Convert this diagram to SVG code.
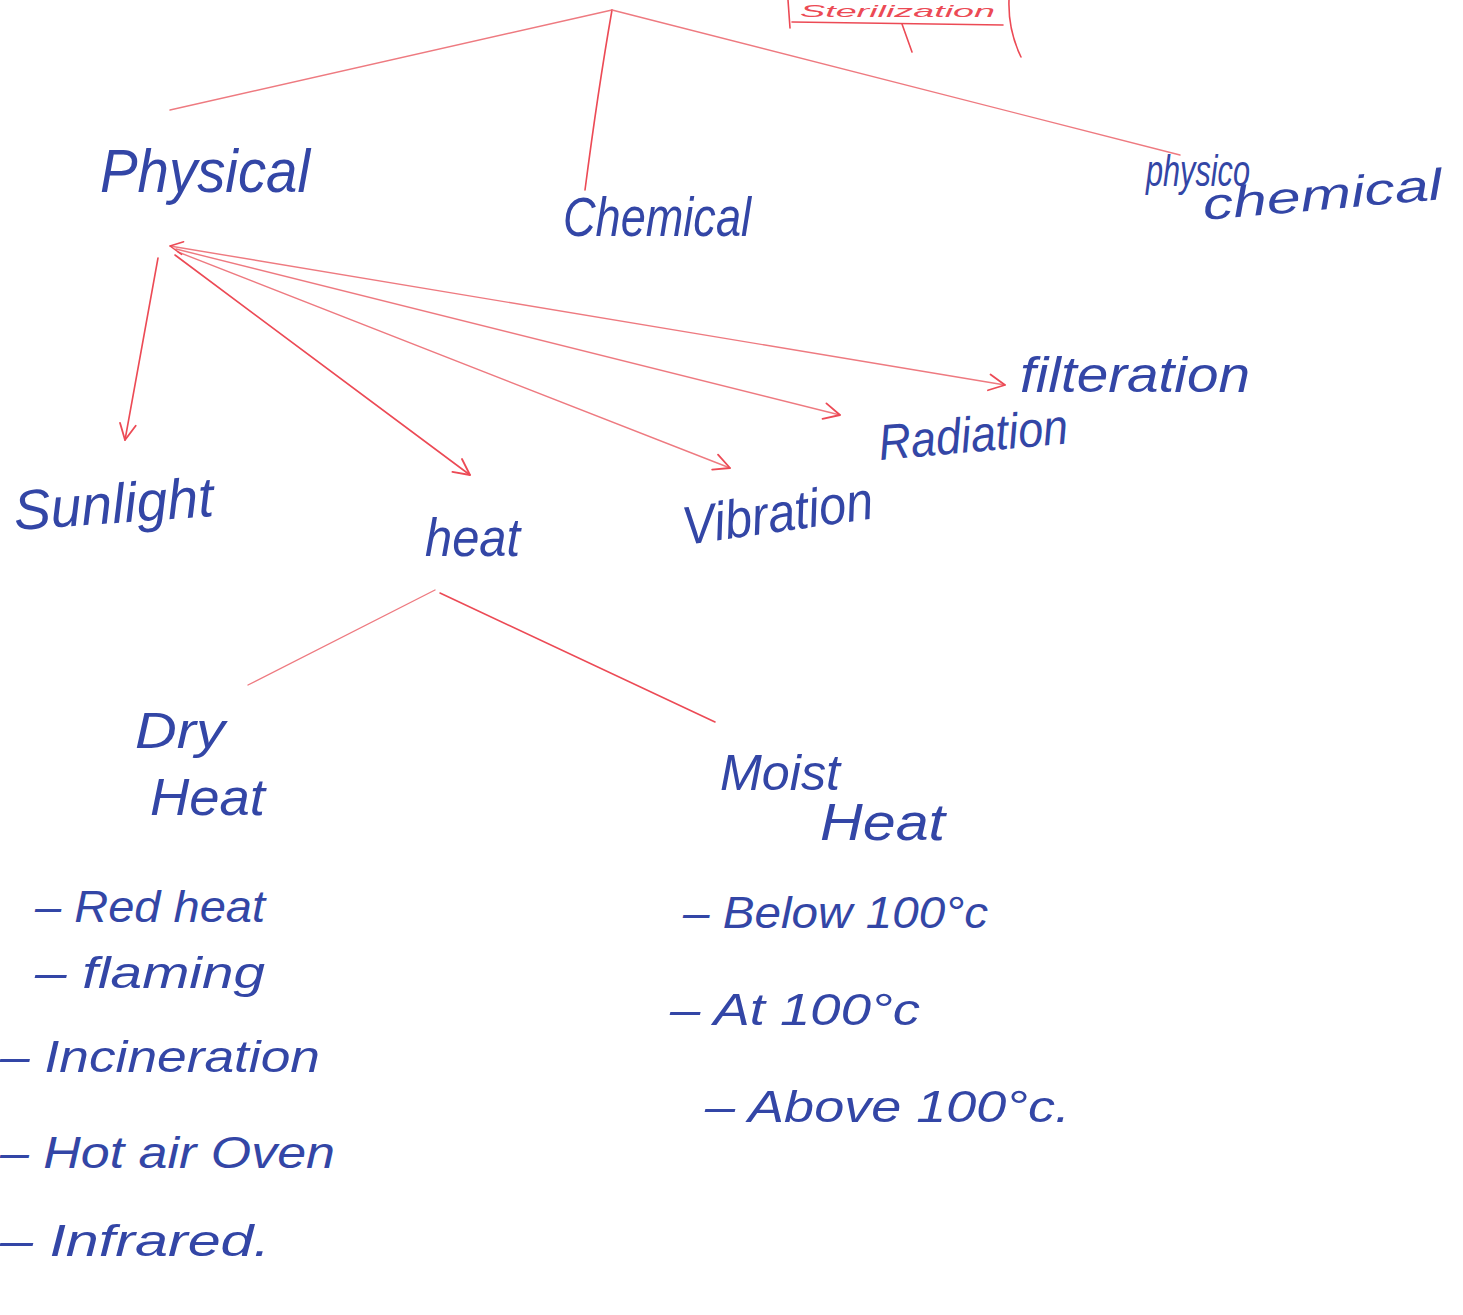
<svg xmlns="http://www.w3.org/2000/svg" width="1463" height="1315" viewBox="0 0 1463 1315">
<style>
.t{font-family:"Liberation Sans","DejaVu Sans",sans-serif;fill:#3346a6;font-style:italic}
.ln{fill:none;stroke:#ec4a55;stroke-width:1.6;stroke-linecap:round}
.lt{fill:none;stroke:#ee7a80;stroke-width:1.4;stroke-linecap:round}
.ah{fill:none;stroke:#ec4a55;stroke-width:1.8;stroke-linecap:round;stroke-linejoin:round}
</style>
<defs>
<marker id="arr" viewBox="0 0 20 20" refX="18" refY="10" markerWidth="20" markerHeight="20" markerUnits="userSpaceOnUse" orient="auto">
<path d="M2,2 L18,10 L2,18" class="ah"/>
</marker>
<marker id="arrs" viewBox="0 0 20 20" refX="2" refY="10" markerWidth="16" markerHeight="16" markerUnits="userSpaceOnUse" orient="auto">
<path d="M18,2 L2,10 L18,18" class="ah"/>
</marker>
</defs>
<rect width="1463" height="1315" fill="#ffffff"/>

<g id="title">
<text class="t" x="800" y="17" font-size="17" style="fill:#ec4a55" textLength="195" lengthAdjust="spacingAndGlyphs">Sterilization</text>
<path class="ln" d="M788,0 L790,28"/>
<path class="ln" d="M792,22 L1003,25"/>
<path class="ln" d="M1009,0 Q1008,30 1021,57"/>
<path class="ln" d="M902,24 Q907,38 912,52"/>
</g>

<g id="connectors">
<path class="lt" d="M612,10 L170,110"/>
<path class="ln" d="M612,10 Q598,90 585,190"/>
<path class="lt" d="M612,10 L1180,155"/>
<path class="ln" d="M158,258 L125,440" marker-end="url(#arr)"/>
<path class="ln" d="M175,255 L470,475" marker-end="url(#arr)"/>
<path class="lt" d="M178,252 L730,468" marker-end="url(#arr)"/>
<path class="lt" d="M176,249 L840,415" marker-end="url(#arr)"/>
<path class="lt" d="M170,246 L1005,385" marker-start="url(#arrs)" marker-end="url(#arr)"/>
<path class="lt" d="M435,590 L248,685"/>
<path class="ln" d="M440,593 L715,722"/>
</g>

<g id="physical"><text class="t" x="100" y="192" font-size="62" textLength="210" lengthAdjust="spacingAndGlyphs">Physical</text></g>
<g id="chemical"><text class="t" x="563" y="236" font-size="56" textLength="188" lengthAdjust="spacingAndGlyphs">Chemical</text></g>
<g id="physicochemical">
<text class="t" x="1146" y="186" font-size="44" textLength="104" lengthAdjust="spacingAndGlyphs">physico</text>
<text class="t" x="1204" y="220" font-size="44" textLength="240" lengthAdjust="spacingAndGlyphs" transform="rotate(-5 1204 220)">chemical</text>
</g>
<g id="sunlight"><text class="t" x="15" y="530" font-size="56" textLength="200" lengthAdjust="spacingAndGlyphs" transform="rotate(-4 15 530)">Sunlight</text></g>
<g id="heat"><text class="t" x="425" y="556" font-size="54" textLength="95" lengthAdjust="spacingAndGlyphs">heat</text></g>
<g id="vibration"><text class="t" x="685" y="545" font-size="54" textLength="192" lengthAdjust="spacingAndGlyphs" transform="rotate(-8 685 545)">Vibration</text></g>
<g id="radiation"><text class="t" x="880" y="460" font-size="50" textLength="190" lengthAdjust="spacingAndGlyphs" transform="rotate(-5 880 460)">Radiation</text></g>
<g id="filteration"><text class="t" x="1020" y="392" font-size="50" textLength="230" lengthAdjust="spacingAndGlyphs">filteration</text></g>

<g id="dryheat">
<text class="t" x="135" y="748" font-size="50" textLength="90" lengthAdjust="spacingAndGlyphs">Dry</text>
<text class="t" x="150" y="815" font-size="52" textLength="115" lengthAdjust="spacingAndGlyphs">Heat</text>
</g>
<g id="moistheat">
<text class="t" x="720" y="790" font-size="50" textLength="120" lengthAdjust="spacingAndGlyphs">Moist</text>
<text class="t" x="820" y="840" font-size="52" textLength="125" lengthAdjust="spacingAndGlyphs">Heat</text>
</g>

<g id="dryheat-list">
<text class="t" x="35" y="922" font-size="44" textLength="230" lengthAdjust="spacingAndGlyphs">– Red heat</text>
<text class="t" x="35" y="988" font-size="44" textLength="230" lengthAdjust="spacingAndGlyphs">– flaming</text>
<text class="t" x="0" y="1072" font-size="44" textLength="320" lengthAdjust="spacingAndGlyphs">– Incineration</text>
<text class="t" x="0" y="1168" font-size="44" textLength="335" lengthAdjust="spacingAndGlyphs">– Hot air Oven</text>
<text class="t" x="0" y="1256" font-size="44" textLength="270" lengthAdjust="spacingAndGlyphs">– Infrared.</text>
</g>
<g id="moistheat-list">
<text class="t" x="683" y="928" font-size="44" textLength="305" lengthAdjust="spacingAndGlyphs">– Below 100°c</text>
<text class="t" x="670" y="1025" font-size="44" textLength="250" lengthAdjust="spacingAndGlyphs">– At 100°c</text>
<text class="t" x="705" y="1122" font-size="44" textLength="365" lengthAdjust="spacingAndGlyphs">– Above 100°c.</text>
</g>
</svg>
